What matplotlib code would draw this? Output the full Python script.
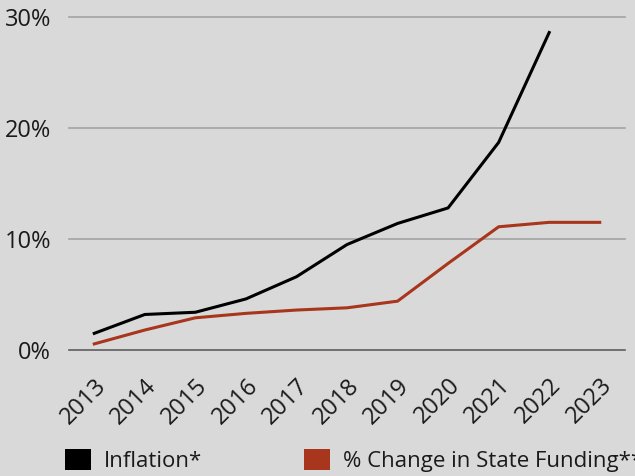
import numpy as np
import matplotlib.pyplot as plt
from matplotlib.patches import Patch
from matplotlib.ticker import FuncFormatter

years = ['2013', '2014', '2015', '2016', '2017', '2018', '2019', '2020', '2021', '2022', '2023']
inflation = [1.5, 3.2, 3.4, 4.6, 6.6, 9.5, 11.4, 12.8, 18.7, 28.6, np.nan]
state_funding = [0.55, 1.8, 2.9, 3.3, 3.6, 3.8, 4.4, 7.8, 11.1, 11.5, 11.5]

bg = '#d9d9d9'
black = '#000000'
red = '#a8361c'

plt.rcParams['font.family'] = ['Open Sans', 'DejaVu Sans']

fig = plt.figure(figsize=(6.35, 4.76), dpi=100, facecolor=bg)
ax = fig.add_axes([69 / 635, 1 - 350 / 476, 556 / 635, 333 / 476])
ax.set_facecolor(bg)

x = np.arange(len(years))
ax.plot(x, inflation, color=black, lw=2.2, solid_joinstyle='miter', zorder=3)
ax.plot(x, state_funding, color=red, lw=2.2, solid_joinstyle='miter', zorder=3)

ax.set_xlim(-0.5, len(years) - 0.5)
ax.set_ylim(0, 30)
ax.set_yticks([0, 10, 20, 30])
ax.yaxis.set_major_formatter(FuncFormatter(lambda v, p: f'{v:.0f}%'))

# gridlines
for v in [10, 20, 30]:
    ax.axhline(v, color='#a3a3a3', lw=1.2, zorder=1, clip_on=False)
ax.axhline(0, color='#5e5e5e', lw=1.2, zorder=2, clip_on=False)

for s in ax.spines.values():
    s.set_visible(False)

ax.set_xticks(x)
ax.set_xticklabels(years, rotation=45, ha='right', va='top', rotation_mode='anchor')
ax.tick_params(axis='both', length=0, labelsize=17, colors='#1a1a1a')
ax.tick_params(axis='x', pad=17)
ax.tick_params(axis='y', pad=13)

handles = [Patch(facecolor=black, label='Inflation*'),
           Patch(facecolor=red, label='% Change in State Funding**')]
fig.legend(handles=handles, loc='lower left', bbox_to_anchor=(45 / 635, -16 / 476),
           ncol=2, frameon=False, fontsize=16, handlelength=1.15, handleheight=1.1,
           handletextpad=0.6, columnspacing=4.6, labelcolor='#1a1a1a')

fig.savefig('out.png', dpi=100, facecolor=bg)
